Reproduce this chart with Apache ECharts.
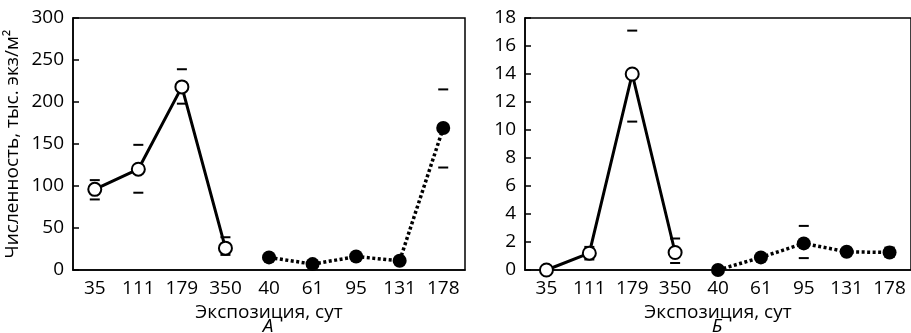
<!DOCTYPE html>
<html>
<head>
<meta charset="utf-8">
<script src="https://cdn.jsdelivr.net/npm/echarts@6/dist/echarts.min.js"></script>
<style>
  html, body { margin: 0; padding: 0; background: #fff; }
  #chart { width: 911px; height: 333px; }
</style>
</head>
<body>
<div id="chart"></div>
<script>
// Exposure days: first four samples (open circles) and the later series (filled circles)
const daysOpen = ['35', '111', '179', '350'];
const daysFilled = ['40', '61', '95', '131', '178'];
const categories = daysOpen.concat(daysFilled);

// Panel A — abundance, thousand ind./m²
const aOpen = [96, 120, 218, 26];
const aOpenLow = [84, 92, 198, 18];
const aOpenHigh = [107, 149, 239, 39];
const aFilled = [15, 7, 16, 11, 169];
const aFilledLow = [null, null, null, 7, 122];
const aFilledHigh = [null, null, null, 15, 215];

// Panel Б
const bOpen = [0, 1.2, 14, 1.25];
const bOpenLow = [null, 0.75, 10.6, 0.5];
const bOpenHigh = [null, 1.65, 17.1, 2.25];
const bFilled = [0, 0.9, 1.9, 1.3, 1.25];
const bFilledLow = [null, null, 0.85, null, 0.95];
const bFilledHigh = [null, null, 3.15, null, 1.6];

// Tick settings
const yTicksA = { min: 0, max: 300, interval: 50 };
const yTicksB = { min: 0, max: 18, interval: 2 };

const FONT = 'Open Sans';
const FS = 19;

function pairs(days, vals) {
  return days.map((d, i) => [d, vals[i]]);
}
function errPairs(days, lo, hi) {
  const out = [];
  days.forEach((d, i) => {
    if (lo[i] != null && hi[i] != null) out.push([d, lo[i], hi[i]]);
  });
  return out;
}

function capRenderer(params, api) {
  const lo = api.coord([api.value(0), api.value(1)]);
  const hi = api.coord([api.value(0), api.value(2)]);
  const half = 5;
  const style = { stroke: '#000', lineWidth: 2 };
  return {
    type: 'group',
    children: [
      { type: 'line', shape: { x1: lo[0] - half, y1: lo[1], x2: lo[0] + half, y2: lo[1] }, style },
      { type: 'line', shape: { x1: hi[0] - half, y1: hi[1], x2: hi[0] + half, y2: hi[1] }, style }
    ]
  };
}

function xAxisFor(gridIndex) {
  return {
    type: 'category',
    gridIndex,
    data: categories,
    boundaryGap: true,
    axisLine: { lineStyle: { color: '#000', width: 1.5 } },
    axisTick: { show: false },
    axisLabel: { color: '#000', fontFamily: FONT, fontSize: FS, margin: 9 },
    name: 'Экспозиция, сут',
    nameLocation: 'middle',
    nameGap: 25,
    nameTextStyle: { color: '#000', fontFamily: FONT, fontSize: FS }
  };
}

function yAxisFor(gridIndex, ticks, name) {
  return {
    type: 'value',
    gridIndex,
    min: ticks.min,
    max: ticks.max,
    interval: ticks.interval,
    splitLine: { show: false },
    axisLine: { show: true, lineStyle: { color: '#000', width: 1.5 } },
    axisTick: { show: true, inside: true, length: 6, lineStyle: { color: '#000', width: 1.5 } },
    axisLabel: { color: '#000', fontFamily: FONT, fontSize: FS, margin: 9 },
    name: name || '',
    nameLocation: 'middle',
    nameRotate: 90,
    nameGap: 51,
    nameTextStyle: { color: '#000', fontFamily: FONT, fontSize: FS }
  };
}

function panelSeries(idx, openVals, openLo, openHi, filledVals, filledLo, filledHi) {
  return [
    {
      type: 'custom',
      xAxisIndex: idx, yAxisIndex: idx,
      renderItem: capRenderer,
      data: errPairs(daysOpen, openLo, openHi).concat(errPairs(daysFilled, filledLo, filledHi)),
      z: 2,
      silent: true
    },
    {
      type: 'line',
      xAxisIndex: idx, yAxisIndex: idx,
      data: pairs(daysOpen, openVals),
      symbol: 'circle',
      symbolSize: 13,
      lineStyle: { color: '#000', width: 3 },
      itemStyle: { color: '#fff', borderColor: '#000', borderWidth: 2 },
      z: 3
    },
    {
      type: 'line',
      xAxisIndex: idx, yAxisIndex: idx,
      data: pairs(daysFilled, filledVals),
      symbol: 'circle',
      symbolSize: 14,
      lineStyle: { color: '#000', width: 3.5, type: [3, 2.5] },
      itemStyle: { color: '#000', borderColor: '#000', borderWidth: 0 },
      z: 3
    }
  ];
}

const chart = echarts.init(document.getElementById('chart'), null, { renderer: 'canvas' });
chart.setOption({
  animation: false,
  backgroundColor: '#fff',
  title: [
    { text: 'А', left: 268, top: 317, padding: 0, textAlign: 'center',
      textStyle: { fontFamily: FONT, fontSize: FS, fontStyle: 'italic', fontWeight: 'normal', color: '#000' } },
    { text: 'Б', left: 717, top: 317, padding: 0, textAlign: 'center',
      textStyle: { fontFamily: FONT, fontSize: FS, fontStyle: 'italic', fontWeight: 'normal', color: '#000' } }
  ],
  grid: [
    { left: 73, top: 18, width: 392, height: 252, show: true, borderColor: '#000', borderWidth: 1.5, backgroundColor: 'transparent' },
    { left: 525, top: 18, width: 394, height: 252, show: true, borderColor: '#000', borderWidth: 1.5, backgroundColor: 'transparent' }
  ],
  xAxis: [xAxisFor(0), xAxisFor(1)],
  yAxis: [yAxisFor(0, yTicksA, 'Численность, тыс. экз/м²'), yAxisFor(1, yTicksB)],
  series: [].concat(
    panelSeries(0, aOpen, aOpenLow, aOpenHigh, aFilled, aFilledLow, aFilledHigh),
    panelSeries(1, bOpen, bOpenLow, bOpenHigh, bFilled, bFilledLow, bFilledHigh)
  )
});
</script>
</body>
</html>
